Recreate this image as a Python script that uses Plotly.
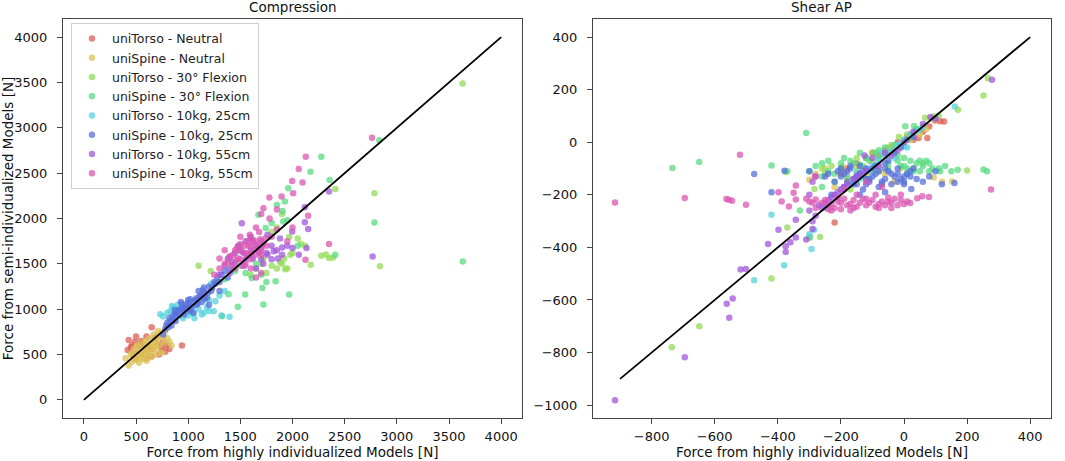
import plotly.graph_objects as go

# series labels and colours (seaborn hls, 8 colours)
names = ['uniTorso - Neutral', 'uniSpine - Neutral', 'uniTorso - 30° Flexion', 'uniSpine - 30° Flexion',
         'uniTorso - 10kg, 25cm', 'uniSpine - 10kg, 25cm', 'uniTorso - 10kg, 55cm', 'uniSpine - 10kg, 55cm']
colors = ['#db5f57', '#dbc257', '#91db57', '#57db80', '#57d3db', '#5770db', '#a157db', '#db57b2']

# ---- Compression data [N] ----
c_torso_neu_x = [940, 650, 500, 430, 420, 460, 480, 550, 600, 700, 750, 800, 720, 650, 550, 500, 580, 620, 680, 530,
                 760, 820, 470, 610, 700, 560, 650, 740, 490, 600, 450, 780]
c_torso_neu_y = [600, 800, 700, 660, 550, 600, 520, 650, 700, 620, 560, 600, 500, 480, 500, 450, 560, 600, 680, 600,
                 640, 560, 480, 530, 700, 620, 560, 590, 640, 460, 580, 530]
c_spine_neu_x = [430, 460, 480, 520, 540, 560, 580, 600, 620, 640, 660, 680, 700, 720, 740, 760, 780, 800, 820, 840,
                 500, 530, 570, 610, 650, 690, 730, 770, 450, 480, 510, 550, 590, 630, 670, 710, 600, 640, 700, 750,
                 400, 470, 520, 560, 620, 680, 540, 600]
c_spine_neu_y = [380, 420, 460, 500, 540, 480, 520, 560, 600, 640, 580, 620, 660, 700, 740, 700, 760, 680, 640, 600,
                 440, 410, 450, 500, 520, 560, 600, 640, 500, 560, 600, 620, 650, 680, 720, 760, 430, 470, 500, 520,
                 460, 520, 570, 560, 540, 590, 460, 620]
c_torso_flex_x = [3630, 2785, 2838, 2410, 2350, 2276, 2175, 1100, 1968, 1950, 1900, 1850, 1880, 1930, 1800, 1750,
                  1700, 1650, 2050, 2000, 1920, 2080, 1720, 1980, 1850, 1900, 1500, 1216, 1800, 2120, 1600, 2320, 2390]
c_torso_flex_y = [3490, 2278, 1473, 2326, 1564, 1590, 1491, 1480, 1795, 1450, 1500, 1450, 1520, 1440, 1480, 1400,
                  1500, 1450, 1780, 1620, 1560, 1720, 1560, 1600, 1900, 2050, 1700, 1421, 1850, 1700, 1380, 1604, 1571]
c_spine_flex_x = [2832, 2785, 3632, 2276, 2356, 2172, 2410, 1721, 1476, 1387, 1546, 1711, 1968, 1324, 1838, 1610,
                  1959, 1927, 1905, 1911, 1673, 1743, 1800, 1850, 1550, 1450, 1650, 1700, 1350, 1750, 2050, 1950, 1500]
c_spine_flex_y = [2864, 1956, 1527, 2681, 2425, 2516, 1600, 1051, 1026, 1165, 1161, 1234, 1161, 923, 1308, 1344,
                  2333, 2187, 2084, 1967, 2040, 1894, 1950, 2150, 1400, 1420, 1500, 1380, 1330, 1300, 1700, 1980, 1480]
c_torso_25_x = [1397, 1320, 1245, 1200, 1150, 1100, 1050, 1000, 950, 900, 860, 830, 800, 733, 844, 1165, 1260, 1300,
                1350, 1200, 1100, 1000, 950, 1280, 1220, 1060, 980, 880, 760, 1130, 1180, 1030]
c_torso_25_y = [916, 930, 978, 980, 960, 1000, 950, 930, 1000, 1050, 1020, 980, 960, 945, 1036, 1106, 1088, 1150,
                1200, 1100, 1080, 1080, 900, 1300, 1280, 900, 960, 1000, 920, 940, 1020, 1000]
c_spine_25_x = [780, 800, 820, 850, 870, 900, 920, 950, 980, 1000, 1020, 1050, 1080, 1100, 1120, 1150, 1180, 1200,
                1250, 1280, 1300, 1350, 1400, 1050, 960, 880, 840, 1000, 1080, 1130, 1220, 930, 760, 1200, 1300, 1380,
                790, 810, 830, 860, 890, 910, 940, 970, 990, 1010, 1040, 1070, 1090, 1110, 1140, 1160, 1190, 1230,
                1260, 1320, 870, 940, 1020, 1150]
c_spine_25_y = [780, 850, 900, 920, 950, 980, 1000, 1020, 1050, 1000, 980, 1080, 1120, 1200, 1150, 1180, 1130, 1250,
                1300, 1350, 1300, 1420, 1450, 960, 940, 870, 820, 1100, 1050, 1080, 1200, 1080, 720, 1050, 1200, 1350,
                820, 800, 870, 880, 940, 930, 990, 1000, 1020, 1060, 1030, 1100, 1060, 1140, 1210, 1120, 1180, 1230,
                1280, 1380, 990, 1060, 1110, 1240]
c_torso_55_x = [1514, 1600, 1700, 1800, 1850, 1900, 1950, 2000, 2060, 2134, 2150, 2118, 2118, 2350, 2768, 1400, 1450,
                1550, 1650, 1700, 1750, 1800, 1600, 1500, 1450, 1350, 1880, 1997, 1700, 1550, 1650, 1400, 1300,
                1480, 1530, 1580, 1620, 1680, 1720, 1760, 1820, 1860, 1900, 1540, 1420, 1380, 1620, 1760]
c_torso_55_y = [1948, 1800, 1750, 1700, 1650, 1600, 1700, 1674, 1600, 1674, 1883, 1960, 2125, 2297, 1582, 1580, 1500,
                1550, 1450, 1550, 1620, 1550, 1650, 1650, 1620, 1480, 1780, 1857, 1680, 1750, 1700, 1400, 1380,
                1700, 1620, 1590, 1560, 1620, 1500, 1600, 1640, 1560, 1680, 1480, 1520, 1560, 1750, 1820]
c_spine_55_x = [2762, 2127, 2060, 1997, 2096, 2006, 1895, 1778, 1721, 1850, 1700, 1780, 1650, 1600, 1500, 1450, 1400,
                1350, 1300, 1250, 1550, 1600, 1650, 1700, 1750, 1500, 1450, 1550, 1600, 1700, 1650, 2150, 2000, 2350,
                2124, 1950, 1850, 1800, 1500, 1580, 1350, 1300,
                1430, 1470, 1510, 1540, 1570, 1600, 1630, 1660, 1690, 1720, 1480, 1520, 1560, 1610, 1650, 1700, 1740,
                1380, 1420, 1460, 1590, 1680]
c_spine_55_y = [2890, 2681, 2546, 2414, 2396, 2278, 2242, 2231, 2114, 2100, 2050, 2000, 1900, 1780, 1720, 1650, 1580,
                1500, 1450, 1380, 1620, 1550, 1600, 1650, 1700, 1550, 1450, 1500, 1450, 1400, 1350, 2029, 1900, 1718,
                1546, 1750, 1880, 1800, 1800, 1700, 1650, 1560,
                1600, 1680, 1640, 1700, 1750, 1690, 1760, 1720, 1770, 1720, 1560, 1480, 1600, 1620, 1660, 1600, 1780,
                1520, 1480, 1540, 1820, 1850]

# ---- Shear AP data [N] ----
s_torso_neu_x = [-220, 99, 46, 115, 127, 74, -58, -100, -80, -150, -60, -20, 10, 30, -40, -120, 60, 80, -180, -200, 20]
s_torso_neu_y = [-305, 83, 16, 80, 79, 16, -44, -40, -50, -80, -30, 0, 20, 10, -20, -60, 40, 60, -100, -120, 30]
s_spine_neu_x = [-300, 94, 121, 153, -250, -195, -150, -100, -50, 0, 50, -180, -120, -60, -30, 20, -280, -80, -220,
                 70, -10]
s_spine_neu_y = [-143, -134, -150, -149, -100, -92, -90, -70, -40, 0, 30, -140, -130, -120, -150, 10, -120, -90, -170,
                 50, -100]
s_torso_flex_x = [-736, -649, -420, -370, -301, -266, 252, 266, 171, 200, 67, 86, 95, -16, 21, -375, -284, -150, -100,
                  -50, -200, -250, 10, 40, 110, -80, -130, -170, 30, 60, -260, -230, -120, -40, 0, 40]
s_torso_flex_y = [-780, -700, -518, -324, -364, -360, 178, 244, 124, -107, 93, 90, 98, 20, 16, -113, -178, -60, -40,
                  -20, -100, -120, 30, 50, 100, -110, -90, -180, -100, -80, -100, -90, -60, -10, 10, 50]
s_spine_flex_x = [-734, -649, -310, -420, -298, 252, 263, 115, 4, 32, -300, -260, -240, -200, -160, -120, -90, -60,
                  -30, 0, -10, 10, 30, 60, 80, -50, -100, -150, -180, -220, -140, -80, 170, 110, -370, -330, -20, 50,
                  -260, -280, -240, -200, -170, -140, -110, -80, -50, -20, 0, 20, 40, 70, 90, 130, 150, -260, -220,
                  -190, -60, -30, 10, 50, 80]
s_spine_flex_y = [-98, -75, 35, -88, -360, -104, -110, -110, 61, 62, -110, -80, -110, -100, -80, -60, -40, -20,
                  -10, -60, -90, -100, -110, -90, -110, -100, -110, -110, -130, -150, -40, -30, -105, -100, -110, -260,
                  -50, -70, -170, -90, -70, -80, -70, -85, -70, -60, -80, -70, -90, -70, -80, -70, -100, -90, -110,
                  -130, -120, -60, -50, -40, -120, -110, -80]
s_torso_25_x = [-475, -380, -420, -293, -285, 161, -100, -80, -60, -40, -20, 0, 20, 40, -120, -150, -200, -250, -30,
                10, 60, -70, -300, -130, -110, -90, -50, -10, 30, 50, -170, -140, 0]
s_torso_25_y = [-525, -468, -276, -406, -333, 136, -90, -70, -50, -30, -10, 10, 30, 45, -100, -120, -180, -250, -60,
                -20, 60, -40, -350, -130, -110, -85, -45, -5, 35, 50, -160, -140, -15]
s_spine_25_x = [-475, -379, -420, 160, 23, -200, -180, -160, -140, -120, -100, -80, -60, -40, -20, 0, 20, 40, -220,
                -240, -190, -150, -110, -70, -130, -90, -50, -30, -10, 10, -170, -210, 60, 100, -250, -60, -20, -300,
                -230, 0, -140, 30, -190, -170, -150, -130, -110, -90, -70, -50, -30, -10, 10, 30, -160, -120, -80,
                -40, 0, -200, -140, -100, -60, -20, 20, -180, -120, -60, 80, 120]
s_spine_25_y = [-121, -108, -190, -155, -178, -130, -110, -140, -120, -100, -130, -110, -140, -120, -100, -130, -110,
                -140, -150, -120, -170, -160, -150, -160, -180, -90, -70, -40, -20, 10, -90, -110, -150, -110, -130,
                -190, -150, -110, -200, -160, -200, 20, -120, -100, -130, -110, -140, -120, -150, -110, -130, -140,
                -120, -100, -160, -160, -170, -160, -150, -100, -90, -100, -80, -120, -130, -150, -140, -100, -130,
                -160]
s_torso_55_x = [-916, -695, -554, -562, -543, -518, -501, -431, -375, -375, -398, -343, -343, -290, -280, -300, -270,
                -290, -310, 279, 84, -125, -240, -220, -200, -180, -160, -140, -100, -60, -360, -290, -280, -300, 30, 60,
                -260, -250, -230, -210, -190, -150, -120, -80, -40, -20, 0, 100]
s_torso_55_y = [-981, -818, -668, -614, -594, -484, -482, -387, -417, -396, -333, -362, -295, -300, -280, -260, -240,
                -330, -370, 238, 96, -50, -220, -200, -180, -160, -140, -120, -60, -40, -380, -150, -130, -200, 40, 70,
                -250, -230, -210, -190, -170, -130, -110, -90, -50, -30, 0, 90]
s_spine_55_x = [-916, -695, -563, -555, -545, -501, -520, -398, -343, -350, -388, -365, -343, -310, -300, -290, -280,
                -282, 276, 79, 58, 42, 20, -260, -240, -220, -200, -180, -160, -140, -120, -100, -80, -60, -40, -20,
                0, -150, -90, -50, -210, -230, -190, -120, -70, -10, -170, -280, -250, -230, -210, -190, -170, -150,
                -130, -110, -90, -70, -50, -30, -10, 10, -240, -200, -160, -120, -80, -40]
s_spine_55_y = [-229, -212, -216, -219, -222, -238, -47, -190, -164, -192, -225, -244, -218, -215, -225, -230, -218,
                -130, -180, -208, -205, -213, -231, -230, -240, -250, -230, -240, -220, -230, -240, -220, -235, -240,
                -230, -240, -235, -200, -200, -210, -210, -260, -180, -150, -170, -200, -260, -250, -220, -235, -225,
                -215, -235, -245, -215, -230, -245, -225, -225, -215, -220, -225, -255, -255, -250, -215, -250, -250]

# identity reference lines
comp_line = [0, 4000]
shear_line = [-900, 400]

comp_x = [c_torso_neu_x, c_spine_neu_x, c_torso_flex_x, c_spine_flex_x, c_torso_25_x, c_spine_25_x, c_torso_55_x, c_spine_55_x]
comp_y = [c_torso_neu_y, c_spine_neu_y, c_torso_flex_y, c_spine_flex_y, c_torso_25_y, c_spine_25_y, c_torso_55_y, c_spine_55_y]
shear_x = [s_torso_neu_x, s_spine_neu_x, s_torso_flex_x, s_spine_flex_x, s_torso_25_x, s_spine_25_x, s_torso_55_x, s_spine_55_x]
shear_y = [s_torso_neu_y, s_spine_neu_y, s_torso_flex_y, s_spine_flex_y, s_torso_25_y, s_spine_25_y, s_torso_55_y, s_spine_55_y]

FONT = 'DejaVu Sans'
fig = go.Figure()

for i, name in enumerate(names):
    fig.add_trace(go.Scatter(x=comp_x[i], y=comp_y[i], mode='markers', name=name, legendgroup=name,
                             marker=dict(color=colors[i], size=6.5, opacity=0.75, line=dict(width=0)),
                             xaxis='x', yaxis='y'))
fig.add_trace(go.Scatter(x=comp_line, y=comp_line, mode='lines', showlegend=False,
                         line=dict(color='black', width=1.8), xaxis='x', yaxis='y'))

for i, name in enumerate(names):
    fig.add_trace(go.Scatter(x=shear_x[i], y=shear_y[i], mode='markers', name=name, legendgroup=name,
                             showlegend=False,
                             marker=dict(color=colors[i], size=6.5, opacity=0.75, line=dict(width=0)),
                             xaxis='x2', yaxis='y2'))
fig.add_trace(go.Scatter(x=shear_line, y=shear_line, mode='lines', showlegend=False,
                         line=dict(color='black', width=1.8), xaxis='x2', yaxis='y2'))

axis_style = dict(showline=True, mirror=True, linecolor='#444', linewidth=1, ticks='outside', ticklen=5,
                  tickcolor='#444', showgrid=False, zeroline=False, automargin=False,
                  tickfont=dict(size=13, color='#111'))
title_font = dict(size=13.5, color='#111')

fig.update_layout(
    width=1065, height=461,
    margin=dict(l=63, r=14, t=19, b=43),
    paper_bgcolor='white', plot_bgcolor='white',
    font=dict(family=FONT, size=13, color='#111'),
    xaxis=dict(domain=[0, 0.4646], range=[-200, 4200], tickvals=list(range(0, 4001, 500)), ticklabelstandoff=1,
               title=dict(text='Force from highly individualized Models [N]', standoff=2, font=title_font),
               **axis_style),
    yaxis=dict(range=[-200, 4200], tickvals=list(range(0, 4001, 500)), ticklabelstandoff=7,
               title=dict(text='Force from semi-individualized Models [N]', standoff=4, font=title_font),
               **axis_style),
    xaxis2=dict(domain=[0.5364, 1], range=[-986, 466], tickvals=list(range(-800, 401, 200)), ticklabelstandoff=1,
                title=dict(text='Force from highly individualized Models [N]', standoff=2, font=title_font),
                anchor='y2', **axis_style),
    yaxis2=dict(range=[-1049, 469], tickvals=list(range(-1000, 401, 200)), ticklabelstandoff=7, anchor='x2',
                **axis_style),
    legend=dict(x=0.0081, y=0.99, xanchor='left', yanchor='top', bgcolor='rgba(255,255,255,0.85)',
                bordercolor='#d0d0d0', borderwidth=1, font=dict(size=12.5, color='#222'), itemsizing='trace',
                itemwidth=30, tracegroupgap=0),
    annotations=[
        dict(text='Compression', x=0.2323, y=1.0, xref='paper', yref='paper', xanchor='center', yanchor='middle',
             showarrow=False, font=dict(size=13.5, color='#111'), yshift=12),
        dict(text='Shear AP', x=0.7682, y=1.0, xref='paper', yref='paper', xanchor='center', yanchor='middle',
             showarrow=False, font=dict(size=13.5, color='#111'), yshift=12),
    ],
)

# drop the browser's default body margin so the figure sits at the window origin
fig.write_html("out.html", config={'displayModeBar': False},
               post_script="document.body.style.margin='0';")
